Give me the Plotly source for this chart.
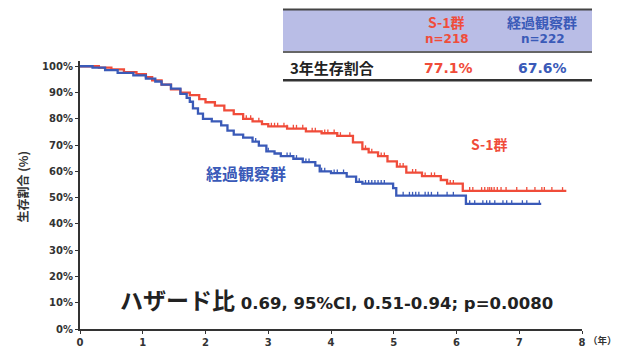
import plotly.graph_objects as go
import numpy as np

# ---- data ----
s1_time = [0, 0.3, 0.5, 0.7, 0.9, 1.05, 1.15, 1.3, 1.45, 1.6, 1.75, 1.9, 2.0, 2.15, 2.3, 2.45,
           2.6, 2.75, 2.9, 3.0, 3.3, 3.6, 3.85, 4.1, 4.35, 4.5, 4.6, 4.75, 4.9, 5.05, 5.2, 5.45,
           5.75, 5.85, 6.1, 7.75]
s1_surv = [100, 99.5, 98.8, 97.8, 97.0, 95.9, 94.6, 93.0, 91.2, 90.0, 89.0, 87.5, 86.3, 85.0, 83.2, 81.8,
           80.0, 79.0, 78.0, 77.1, 76.3, 75.2, 74.5, 73.5, 71.0, 68.5, 67.2, 65.8, 63.8, 61.8, 59.5, 58.2,
           56.7, 55.3, 52.6, 52.6]
s1_cens = [2.65, 2.72, 2.85, 3.05, 3.1, 3.15, 3.25, 3.3, 3.4, 3.45, 3.55, 3.6, 3.7, 3.75, 3.9, 3.95,
           4.05, 4.15, 4.3, 4.55, 4.65, 4.8, 4.85, 5.1, 5.15, 5.3, 5.35, 5.5, 5.6, 5.65, 5.9, 5.95,
           6.21, 6.26, 6.4, 6.45, 6.5, 6.53, 6.56, 6.6, 6.65, 6.71, 6.79, 6.96, 7.12, 7.25, 7.36, 7.4,
           7.52, 7.69]

obs_time = [0, 0.2, 0.4, 0.6, 0.85, 1.05, 1.2, 1.3, 1.45, 1.6, 1.7, 1.75, 1.8, 1.88, 1.96, 2.1, 2.25,
            2.35, 2.45, 2.6, 2.75, 2.85, 2.97, 3.1, 3.2, 3.4, 3.55, 3.75, 3.82, 4.0, 4.25, 4.4, 4.5,
            4.99, 5.04, 6.15, 7.35]
obs_surv = [100, 99.5, 98.5, 97.5, 96.5, 95.3, 94.2, 93.0, 91.5, 89.5, 88.0, 86.5, 84.0, 82.0, 80.0, 79.0,
            77.5, 75.5, 74.0, 72.8, 71.3, 69.8, 67.6, 66.8, 65.8, 64.8, 63.5, 62.2, 60.0, 59.3, 58.0,
            56.0, 55.3, 53.6, 50.8, 47.6, 47.6]
obs_cens = [2.6, 2.8, 3.0, 3.3, 3.35, 3.45, 3.6, 3.65, 3.85, 3.9, 4.05, 4.1, 4.2, 4.45, 4.55, 4.6, 4.65,
            4.7, 4.75, 4.8, 4.85, 5.15, 5.25, 5.3, 5.35, 5.4, 5.5, 5.55, 5.6, 5.7, 5.85, 5.95,
            6.21, 6.29, 6.42, 6.48, 6.53, 6.61, 6.74, 6.8, 6.88, 7.05, 7.12, 7.32]

x_ticks = [0, 1, 2, 3, 4, 5, 6, 7, 8]
y_ticks = [0, 10, 20, 30, 40, 50, 60, 70, 80, 90, 100]
y_labels = [f"<b>{v}%</b>" for v in y_ticks]

groups = ["S-1群", "経過観察群"]
n_labels = ["n=218", "n=222"]
surv3 = ["77.1%", "67.6%"]

RED = "#f04c3a"
BLUE = "#3a5ab8"
FONT = "Noto Sans CJK JP"
LAT = "DejaVu Sans"


def step_val(times, surv, t):
    idx = np.searchsorted(np.array(times), t, side="right") - 1
    return surv[max(idx, 0)]


fig = go.Figure()
for times, surv, cens, col in [(s1_time, s1_surv, s1_cens, RED), (obs_time, obs_surv, obs_cens, BLUE)]:
    fig.add_trace(go.Scatter(x=times, y=surv, mode="lines", line=dict(color=col, width=2.3, shape="hv"),
                             hoverinfo="skip", showlegend=False))
    cy = [step_val(times, surv, t) for t in cens]
    fig.add_trace(go.Scatter(x=cens, y=cy, mode="markers", marker=dict(size=1, color=col, opacity=0),
                             error_y=dict(type="data", symmetric=False, array=[1.4] * len(cens),
                                          arrayminus=[0] * len(cens), color=col, thickness=1.3, width=0),
                             hoverinfo="skip", showlegend=False))

# screen placement (page margin / capture scaling compensation)
OFFX = 8
OFFY, KY = 9.6, 0.967
W, H = 630 - OFFX, 352
L, R, T, B = 80, 582, 61, 326   # screen pixels of plot area


def px(x):
    return (x - L) / (R - L)


def py(y):
    return (B - y) / (B - T)


shapes = []
shapes.append(dict(type="rect", xref="paper", yref="paper", x0=px(283), x1=px(592), y0=py(51), y1=py(10),
                   fillcolor="#b9bde6", line=dict(width=0), layer="below"))
shapes.append(dict(type="line", xref="paper", yref="paper", x0=px(283), x1=px(592), y0=py(10), y1=py(10),
                   line=dict(color="#444", width=2)))
shapes.append(dict(type="line", xref="paper", yref="paper", x0=px(283), x1=px(592), y0=py(52), y1=py(52),
                   line=dict(color="#333", width=1.5)))
shapes.append(dict(type="line", xref="paper", yref="paper", x0=px(283), x1=px(592), y0=py(80), y1=py(80),
                   line=dict(color="#333", width=2.5)))

ann = []


def add_text(text, x, y, size, color, family=FONT, xanchor="center", angle=0):
    ann.append(dict(text=f"<b>{text}</b>", x=px(x), y=py(y), xref="paper", yref="paper",
                    showarrow=False, xanchor=xanchor, yanchor="middle", textangle=angle,
                    font=dict(family=family, size=size, color=color)))


add_text(groups[0], 446, 22, 14, RED)
add_text(n_labels[0], 447, 39, 12, RED, family=LAT)
add_text(groups[1], 542, 22, 14, BLUE)
add_text(n_labels[1], 543, 39, 12, BLUE, family=LAT)
add_text("3年生存割合", 288, 67, 15, "#222", xanchor="left")
add_text(surv3[0], 448, 68, 14, RED, family=LAT)
add_text(surv3[1], 542, 68, 14, BLUE, family=LAT)

add_text("経過観察群", 246, 172, 16, BLUE)
add_text("S-1群", 489, 143, 14, RED)
hz = ("ハザード比<span style=\"font-family:DejaVu Sans;font-size:16.5px\"> 0.69, 95%CI, 0.51-0.94; "
      "p=0.0080</span>")
add_text(hz, 336, 296, 23, "#222")
add_text("生存割合 (%)", 22, 186, 12, "#333", angle=-90)
add_text("（年）", 602, 337, 9.5, "#333")

fig.update_layout(
    width=W, height=H,
    margin=dict(l=L - OFFX, r=W - (R - OFFX), t=(T - OFFY) / KY, b=H - (B - OFFY) / KY),
    paper_bgcolor="white", plot_bgcolor="white",
    shapes=shapes, annotations=ann,
    xaxis=dict(range=[0, 8], tickvals=x_ticks, ticktext=[f"<b>{v}</b>" for v in x_ticks], showgrid=False,
               zeroline=False, showline=True, linecolor="#333", linewidth=2, ticks="outside",
               ticklen=3, tickcolor="#333", tickfont=dict(family=LAT, size=10, color="#333")),
    yaxis=dict(range=[0, 102], tickvals=y_ticks, ticktext=y_labels, showgrid=False, zeroline=False,
               showline=True, linecolor="#333", linewidth=2, ticks="outside", ticklen=3, tickcolor="#333",
               tickfont=dict(family=LAT, size=10, color="#333")),
)

fig.write_html("out.html")
